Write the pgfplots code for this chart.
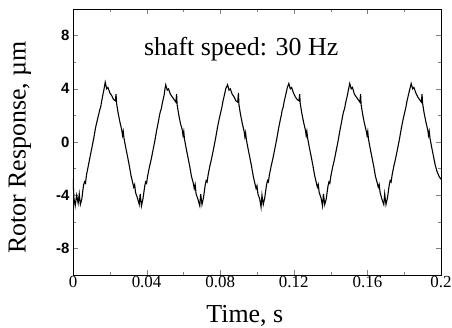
\documentclass[border=0pt]{standalone}
\usepackage{pgfplots}
\pgfplotsset{compat=1.18}
\usepackage{fontspec}
\setmainfont{Liberation Serif}
\setsansfont{Liberation Sans}
\usetikzlibrary{calc}
\begin{document}
\begin{tikzpicture}
\begin{axis}[
  name=ax,
  scale only axis,
  width=368bp, height=266bp,
  xmin=0, xmax=0.2, ymin=-10, ymax=10,
  xtick={0,0.04,0.08,0.12,0.16,0.2},
  xticklabels={0,0.04,0.08,0.12,0.16,0.2},
  ytick={-8,-4,0,4,8},
  minor x tick num=1, minor y tick num=1,
  tick align=inside,
  major tick length=5bp, minor tick length=3bp,
  /pgf/number format/assume math mode=true,
  xticklabel style={font=\fontsize{17}{19}\selectfont, yshift=2bp},
  yticklabel style={font=\sffamily\bfseries\fontsize{15}{17}\selectfont, xshift=0bp},
  xlabel={Time, s},
  ylabel={Rotor Response, µm},
  label style={font=\fontsize{26}{28}\selectfont},
  xlabel style={at={(axis description cs:0.467,-0.177)}, anchor=base},
  ylabel style={at={(axis description cs:-0.144,0.479)}, anchor=center},
  axis line style={line width=0.8pt},
]
\addplot[black, line width=1.1pt] coordinates {
(0.0000,-2.8) (0.0005,-4.2) (0.0012,-4.8) (0.0020,-4.0) (0.0028,-4.6) (0.0034,-3.9) (0.0040,-4.7) (0.0048,-4.3) (0.0053,-3.7) (0.0058,-3.2) (0.0063,-3.0) (0.0068,-3.1) (0.0073,-2.5) (0.0083,-1.8) (0.0093,-1.1) (0.0103,-0.4) (0.0113,0.3) (0.0123,1.1) (0.0133,1.7) (0.0140,2.1) (0.0145,2.4) (0.0150,2.6) (0.0155,3.0) (0.0163,3.6) (0.0169,4.0)
(0.0175,4.5) (0.0183,4.0) (0.0190,4.1) (0.0200,3.7) (0.0210,3.5) (0.0220,3.2) (0.0230,3.1) (0.0234,3.6) (0.0237,2.9) (0.0245,2.2) (0.0255,1.5) (0.0265,0.9) (0.0269,0.5) (0.0273,0.8) (0.0277,0.3) (0.0285,-0.3) (0.0295,-1.0) (0.0305,-1.7) (0.0315,-2.5) (0.0325,-3.1) (0.0330,-3.4) (0.0335,-3.2) (0.0340,-3.8) (0.0350,-4.2) (0.0360,-4.7) (0.0365,-3.9) (0.0372,-4.8) (0.0380,-4.3) (0.0385,-3.8) (0.0390,-3.3) (0.0395,-3.0) (0.0400,-3.1) (0.0405,-2.6) (0.0415,-1.9) (0.0425,-1.3) (0.0435,-0.6) (0.0445,0.1) (0.0455,0.9) (0.0465,1.6) (0.0470,2.0) (0.0475,2.3) (0.0480,2.5) (0.0485,2.9) (0.0495,3.5) (0.0500,4.0)
(0.0504,4.3) (0.0512,3.9) (0.0519,4.0) (0.0529,3.6) (0.0539,3.4) (0.0549,3.2) (0.0559,3.0) (0.0563,3.6) (0.0566,2.8) (0.0574,2.1) (0.0584,1.4) (0.0594,0.9) (0.0598,0.5) (0.0602,0.8) (0.0606,0.2) (0.0614,-0.4) (0.0624,-1.1) (0.0634,-1.8) (0.0644,-2.6) (0.0654,-3.1) (0.0659,-3.5) (0.0664,-3.2) (0.0669,-3.9) (0.0679,-4.3) (0.0689,-4.8) (0.0694,-3.9) (0.0701,-4.7) (0.0709,-4.2) (0.0714,-3.7) (0.0719,-3.2) (0.0724,-2.9) (0.0729,-3.0) (0.0734,-2.5) (0.0744,-1.8) (0.0754,-1.2) (0.0764,-0.5) (0.0774,0.2) (0.0784,1.0) (0.0794,1.7) (0.0799,2.0) (0.0804,2.3) (0.0809,2.6) (0.0814,3.0) (0.0824,3.6) (0.0830,4.0)
(0.0840,4.3) (0.0848,3.9) (0.0855,4.0) (0.0865,3.6) (0.0875,3.4) (0.0885,3.1) (0.0895,3.0) (0.0899,3.7) (0.0902,2.8) (0.0910,2.1) (0.0920,1.4) (0.0930,0.8) (0.0934,0.4) (0.0938,0.7) (0.0942,0.2) (0.0950,-0.4) (0.0960,-1.1) (0.0970,-1.8) (0.0980,-2.6) (0.0990,-3.2) (0.0995,-3.5) (0.1000,-3.3) (0.1005,-3.9) (0.1015,-4.3) (0.1022,-4.9) (0.1027,-4.0) (0.1034,-4.7) (0.1042,-4.2) (0.1047,-3.7) (0.1052,-3.2) (0.1057,-2.9) (0.1062,-3.0) (0.1067,-2.5) (0.1077,-1.8) (0.1087,-1.2) (0.1097,-0.5) (0.1107,0.2) (0.1117,1.0) (0.1127,1.7) (0.1132,2.0) (0.1137,2.4) (0.1142,2.6) (0.1147,3.0) (0.1157,3.6) (0.1165,4.1)
(0.1173,4.4) (0.1181,4.0) (0.1188,4.1) (0.1198,3.7) (0.1208,3.4) (0.1218,3.2) (0.1228,3.1) (0.1232,3.6) (0.1235,2.9) (0.1243,2.2) (0.1253,1.5) (0.1263,0.9) (0.1267,0.5) (0.1271,0.8) (0.1275,0.3) (0.1283,-0.3) (0.1293,-1.0) (0.1303,-1.7) (0.1313,-2.5) (0.1323,-3.1) (0.1328,-3.4) (0.1333,-3.2) (0.1338,-3.8) (0.1348,-4.2) (0.1356,-4.8) (0.1361,-3.9) (0.1368,-4.7) (0.1376,-4.3) (0.1381,-3.8) (0.1386,-3.3) (0.1391,-3.0) (0.1396,-3.1) (0.1401,-2.6) (0.1411,-1.9) (0.1421,-1.3) (0.1431,-0.6) (0.1441,0.1) (0.1451,0.9) (0.1461,1.6) (0.1466,2.0) (0.1471,2.3) (0.1476,2.5) (0.1481,2.9) (0.1491,3.5) (0.1498,4.0)
(0.1504,4.4) (0.1512,4.0) (0.1519,4.1) (0.1529,3.6) (0.1539,3.4) (0.1549,3.2) (0.1559,3.0) (0.1563,3.6) (0.1566,2.8) (0.1574,2.1) (0.1584,1.4) (0.1594,0.8) (0.1598,0.5) (0.1602,0.8) (0.1606,0.2) (0.1614,-0.4) (0.1624,-1.1) (0.1634,-1.8) (0.1644,-2.6) (0.1654,-3.1) (0.1659,-3.4) (0.1664,-3.2) (0.1669,-3.8) (0.1679,-4.3) (0.1689,-4.7) (0.1694,-3.9) (0.1701,-4.7) (0.1709,-4.2) (0.1714,-3.7) (0.1719,-3.2) (0.1724,-2.9) (0.1729,-3.0) (0.1734,-2.5) (0.1744,-1.8) (0.1754,-1.2) (0.1764,-0.5) (0.1774,0.2) (0.1784,1.0) (0.1794,1.7) (0.1799,2.0) (0.1804,2.3) (0.1809,2.6) (0.1814,3.0) (0.1824,3.6) (0.1831,4.0)
(0.1838,4.4) (0.1846,4.0) (0.1853,4.1) (0.1863,3.7) (0.1873,3.4) (0.1883,3.2) (0.1893,3.0) (0.1897,3.6) (0.1900,2.9) (0.1908,2.2) (0.1918,1.5) (0.1928,0.9) (0.1932,0.5) (0.1936,0.8) (0.1940,0.3) (0.1948,-0.3) (0.1958,-1.0) (0.1968,-1.7) (0.1978,-2.2) (0.1990,-2.6) (0.2000,-2.8)
};
\node[font=\fontsize{26}{28}\selectfont, anchor=base] at (axis cs:0.0914,6.5) {shaft speed: 30 Hz};
\end{axis}
\pgfresetboundingbox
\path ($(ax.south west)+(-73bp,-53bp)$) rectangle ($(ax.north east)+(11bp,9bp)$);
\end{tikzpicture}
\end{document}
